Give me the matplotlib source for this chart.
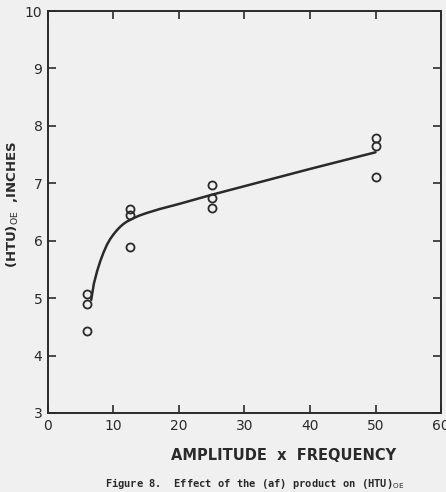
import matplotlib.pyplot as plt

# measured points (amplitude x frequency, HTU_OE in inches)
af = [6, 6, 6, 12.5, 12.5, 12.5, 25, 25, 25, 50, 50, 50]
htu = [5.08, 4.90, 4.43, 6.55, 6.45, 5.89, 6.97, 6.74, 6.57, 7.79, 7.65, 7.11]

# smooth curve drawn through the data
curve_x = [6.6, 7, 7.5, 8, 8.5, 9, 9.5, 10, 10.5, 11, 11.5, 12, 13, 14, 15, 17, 20, 25, 30, 40, 50]
curve_y = [4.97, 5.25, 5.47, 5.65, 5.80, 5.93, 6.03, 6.11, 6.18, 6.24, 6.29, 6.33, 6.39, 6.44, 6.48, 6.55, 6.64,
           6.80, 6.95, 7.25, 7.54]

xticks = [0, 10, 20, 30, 40, 50, 60]
yticks = [3, 4, 5, 6, 7, 8, 9, 10]

bg = '#f0f0f0'
ink = '#2a2a2a'

fig = plt.figure(figsize=(4.46, 4.92), dpi=100, facecolor=bg)
ax = fig.add_axes([0.1076, 0.1606, 0.8812, 0.817])
ax.set_facecolor(bg)

ax.plot(curve_x, curve_y, color=ink, lw=1.8, solid_capstyle='round', solid_joinstyle='round')
ax.plot(af, htu, 'o', ms=5.8, mfc='none', mec=ink, mew=1.3)

ax.set_xlim(0, 60)
ax.set_ylim(3, 10)
ax.set_xticks(xticks)
ax.set_yticks(yticks)
ax.tick_params(direction='in', length=6, width=1.2, color=ink, labelcolor=ink,
               labelsize=10, top=True, right=True, pad=4)
for s in ax.spines.values():
    s.set_color(ink)
    s.set_linewidth(1.4)

fig.text(0.028, 0.585, '(HTU)$_{\\mathrm{OE}}$  ,INCHES', rotation=90, ha='center', va='center',
         fontsize=9.5, fontweight='bold', color=ink)

fig.text(0.635, 0.075, 'AMPLITUDE  x  FREQUENCY', ha='center', va='center',
         fontsize=10.5, fontweight='bold', color=ink)
fig.text(0.57, 0.018, 'Figure 8.  Effect of the (af) product on (HTU)$_{\\mathrm{OE}}$',
         ha='center', va='center', fontsize=7.5, family='DejaVu Sans Mono',
         fontweight='bold', color=ink)

fig.savefig('out.png', dpi=100, facecolor=bg)
